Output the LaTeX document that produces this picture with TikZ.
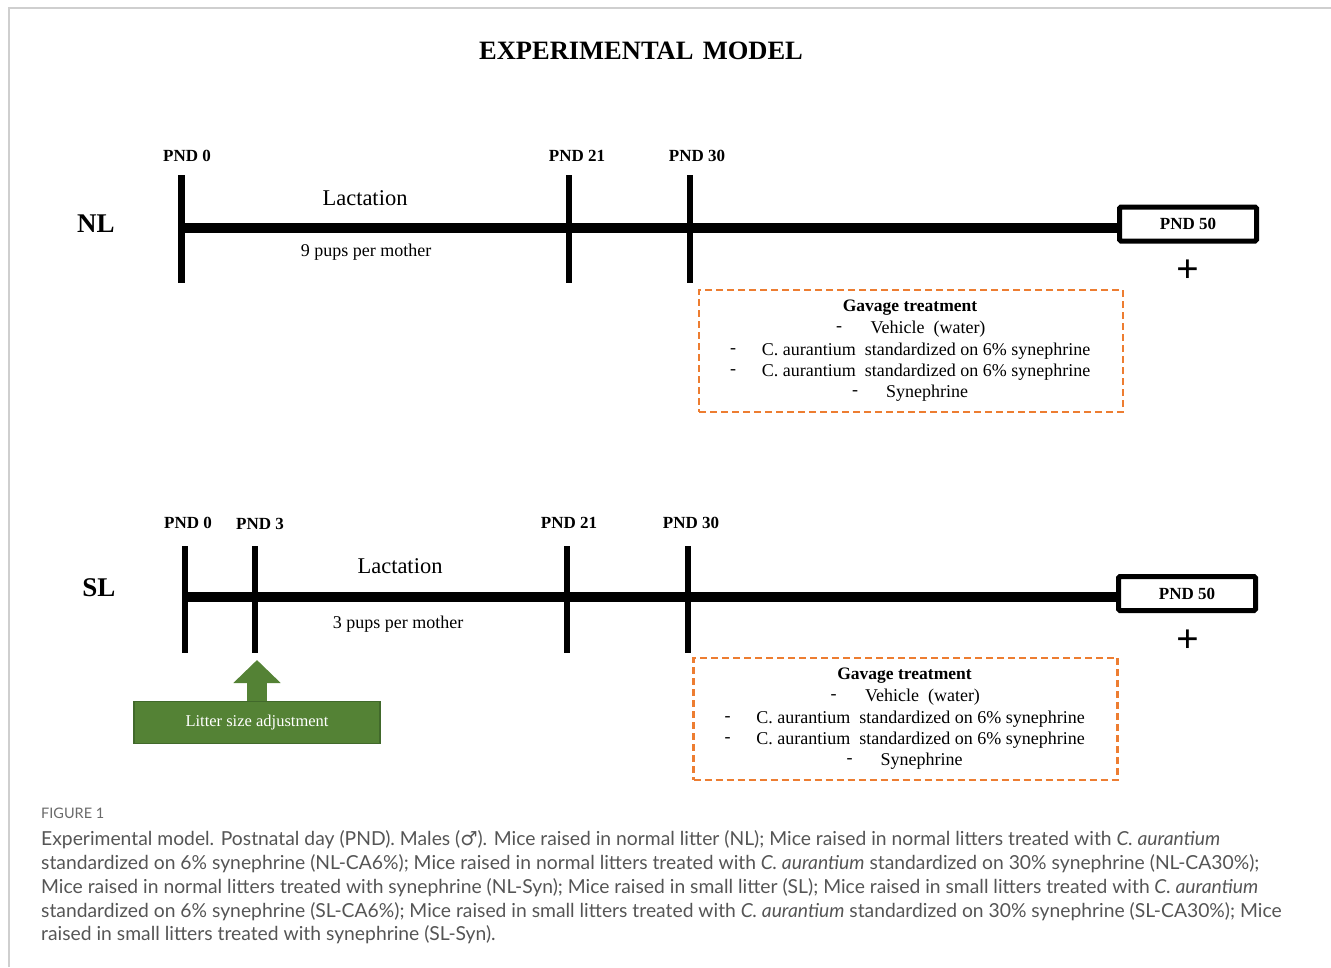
\documentclass[tikz,border=0pt]{standalone}
\usepackage{fontspec}
\setmainfont{Liberation Serif}
\newfontfamily\capfont{Lato}
\newfontfamily\symfont{DejaVu Sans}
\usetikzlibrary{arrows.meta}
\definecolor{gavorange}{HTML}{ED7D31}
\definecolor{lsagreen}{HTML}{548235}
\definecolor{lsaborder}{HTML}{41692B}
\definecolor{capgray}{HTML}{555555}
\definecolor{figgray}{HTML}{6A6A6A}
\definecolor{framegray}{HTML}{CFCFCF}
\newcommand\fsz[1]{\fontsize{#1}{#1}\selectfont}
\newcommand\gavage[3]{%
  \begin{scope}[shift={(#2,#3)}]
    \node[gavbox, minimum width=424pt, minimum height=122pt] (#1box) at (911,351) {};
    \node[gtitle] (#1t) at (910,308) {Gavage treatment};
    \node[gtxt] (#1d1) at (839,329) {-};
    \node[gtxt] (#1l1) at (928,329) {Vehicle\ \ (water)};
    \node[gtxt] (#1d2) at (733,351) {-};
    \node[gtxt] (#1l2) at (926,351) {C. aurantium\ \ standardized on 6\% synephrine};
    \node[gtxt] (#1d3) at (733,372) {-};
    \node[gtxt] (#1l3) at (926,372) {C. aurantium\ \ standardized on 6\% synephrine};
    \node[gtxt] (#1d4) at (855,393) {-};
    \node[gtxt] (#1l4) at (927,393) {Synephrine};
  \end{scope}}
\begin{document}
\begin{tikzpicture}[x=1pt,y=-1pt,
  tick/.style={line width=6.5pt},
  axis/.style={line width=10pt},
  pnd/.style={font=\fsz{17}\bfseries, inner sep=0pt},
  group/.style={font=\fsz{27}\bfseries, inner sep=0pt},
  lact/.style={font=\fsz{22.5}, inner sep=0pt},
  pups/.style={font=\fsz{18}, inner sep=0pt},
  endbox/.style={draw, line width=5pt, rounded corners=1.5pt, minimum width=137pt, minimum height=34pt, font=\fsz{17}\bfseries, inner sep=0pt},
  death/.style={font=\fsz{40}\bfseries, inner sep=0pt},
  gavbox/.style={draw=gavorange, line width=2.2pt, dash pattern=on 7pt off 4pt},
  gtitle/.style={font=\fsz{17.5}\bfseries, inner sep=0pt},
  gtxt/.style={font=\fsz{18}, inner sep=0pt},
  lsabox/.style={fill=lsagreen, draw=lsaborder, line width=1.5pt, minimum width=246pt, minimum height=42pt, text=white, font=\fsz{16.5}, inner sep=0pt},
  captxt/.style={font=\capfont\fsz{19.3}, text=capgray, inner sep=0pt, anchor=base west},
]
\useasboundingbox (0,0) rectangle (1331,967);
\draw[framegray, line width=1.8pt] (9,967) -- (9,8) -- (1331,8);

\node[font=\fsz{26.5}\bfseries, inner sep=0pt] (title) at (641,51) {EXPERIMENTAL\hspace{0.35em}MODEL};

% ---------- NL ----------
\node[group] (nl) at (96,224) {NL};
\foreach \n/\x in {0/181.5, 21/569, 30/690} {
  \coordinate (nlt\n) at (\x,175);
  \coordinate (nlb\n) at (\x,283);
  \draw[tick] (nlt\n) -- (nlb\n);
}
\coordinate (nlax) at (181.5,227.5);
\node[endbox] (nlend) at (1188,224) {PND 50};
\draw[axis] (nlax) -- (nlax -| nlend.west);
\node[pnd] (nlp0) at (187,156) {PND 0};
\node[pnd] (nlp21) at (577,156) {PND 21};
\node[pnd] (nlp30) at (697,156) {PND 30};
\node[lact] (nllact) at (365,198) {Lactation};
\node[pups] (nlpups) at (366,252) {9 pups per mother};
\node[death] (nlplus) at (1188,271) {+};
\gavage{nlg}{0}{0}

% ---------- SL ----------
\node[group] (sl) at (99,588) {SL};
\foreach \n/\x in {0/185, 3/255, 21/567, 30/688} {
  \coordinate (slt\n) at (\x,546);
  \coordinate (slb\n) at (\x,653);
  \draw[tick] (slt\n) -- (slb\n);
}
\coordinate (slax) at (185,597);
\node[endbox] (slend) at (1187,593.5) {PND 50};
\draw[axis] (slax) -- (slax -| slend.west);
\node[pnd] (slp0) at (188,523) {PND 0};
\node[pnd] (slp3) at (260,524) {PND 3};
\node[pnd] (slp21) at (569,523) {PND 21};
\node[pnd] (slp30) at (691,523) {PND 30};
\node[lact] (sllact) at (400,566) {Lactation};
\node[pups] (slpups) at (398,624) {3 pups per mother};
\node[death] (slplus) at (1188,641) {+};
\gavage{slg}{-5.5}{368}

% litter size adjustment
\node[lsabox] (lsa) at (257,722.5) {Litter size adjustment};
\coordinate (lsatip) at (257,660);
\draw[lsagreen, line width=20pt, -{Triangle[width=46pt,length=23pt]}] (lsa.north) -- (lsatip);

% ---------- caption ----------
\node[captxt, font=\capfont\fsz{14.5}, text=figgray] (fig) at (41,818) {FIGURE 1};
\node[captxt] (c1) at (41,845) {Experimental model. Postnatal day (PND). Males ({\symfont ♂}). Mice raised in normal litter (NL); Mice raised in normal litters treated with \textit{C. aurantium}};
\node[captxt] (c2) at (41,869) {standardized on 6\% synephrine (NL-CA6\%); Mice raised in normal litters treated with \textit{C. aurantium} standardized on 30\% synephrine (NL-CA30\%);};
\node[captxt] (c3) at (41,893) {Mice raised in normal litters treated with synephrine (NL-Syn); Mice raised in small litter (SL); Mice raised in small litters treated with \textit{C. aurantium}};
\node[captxt] (c4) at (41,917) {standardized on 6\% synephrine (SL-CA6\%); Mice raised in small litters treated with \textit{C. aurantium} standardized on 30\% synephrine (SL-CA30\%); Mice};
\node[captxt] (c5) at (41,940) {raised in small litters treated with synephrine (SL-Syn).};
\end{tikzpicture}
\end{document}
